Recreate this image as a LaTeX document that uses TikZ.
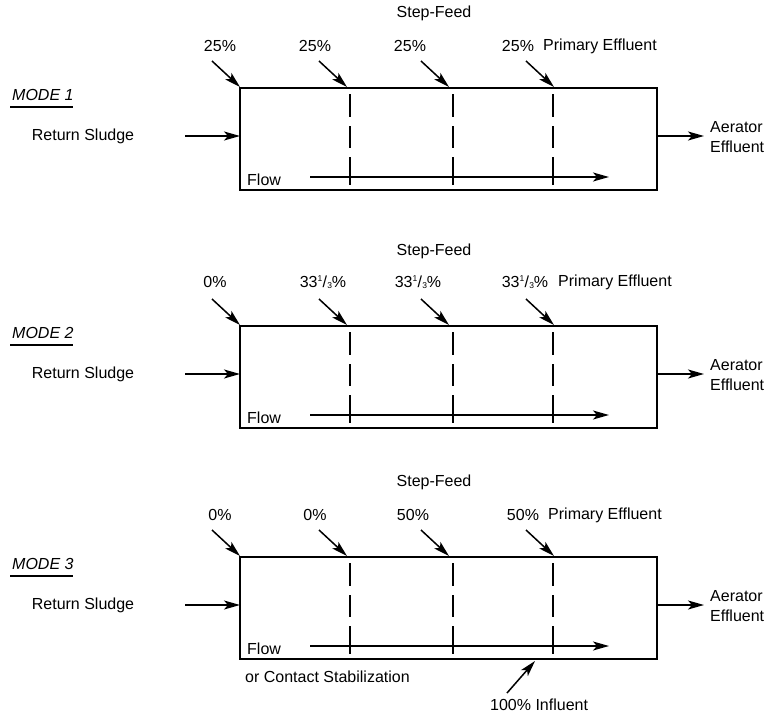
\documentclass[tikz,border=0pt]{standalone}
\usepackage{fontspec}
\setmainfont{Liberation Sans}
\usetikzlibrary{arrows.meta}
\newcommand{\thirdpct}{33\raisebox{0.62ex}{\fontsize{8.5}{9}\selectfont 1}\kern0.3pt/\kern0.2pt\raisebox{-0.15ex}{\fontsize{8.5}{9}\selectfont 3}\%}
\tikzset{
  lbl/.style={font=\fontsize{16}{18}\selectfont, inner sep=0pt},
  modelbl/.style={font=\fontsize{16}{18}\selectfont\itshape, inner sep=0pt, anchor=west},
  tank/.style={draw, line width=1.8pt, minimum width=417pt, minimum height=102pt, inner sep=0pt, outer sep=0pt, anchor=north west},
  arr/.style={line width=1.5pt, -{Stealth[length=16pt,width=9pt,inset=4pt]}},
  divider/.style={line width=1.6pt},
  uline/.style={line width=1.5pt}
}
\begin{document}
\begin{tikzpicture}[x=1pt,y=-1pt]
\useasboundingbox (0,0) rectangle (768,717);
% ---------- common parts for each mode ----------
\foreach \m/\t in {1/88,2/326,3/557}{
  \node[tank] (box\m) at (240,\t) {};
  \node[modelbl] (mode\m) at (12,\t+7) {MODE \m};
  \draw[uline] (10,\t+19) -- (73,\t+19);
  \node[lbl] (rs\m) at (83,\t+48) {Return Sludge};
  \coordinate (rsa\m) at (185,\t+48);
  \coordinate (rsb\m) at (240,\t+48);
  \draw[arr] (rsa\m) -- (rsb\m);
  \coordinate (aea\m) at (657,\t+48);
  \coordinate (aeb\m) at (704,\t+48);
  \draw[arr] (aea\m) -- (aeb\m);
  \node[lbl, anchor=west] (aer\m) at (710,\t+39.5) {Aerator};
  \node[lbl, anchor=west] (eff\m) at (710,\t+59) {Effluent};
  \node[lbl, anchor=west] (flow\m) at (247,\t+92) {Flow};
  \coordinate (fla\m) at (310,\t+89);
  \coordinate (flb\m) at (609,\t+89);
  \draw[arr] (fla\m) -- (flb\m);
  \foreach \x in {350,453,553}{
    \draw[divider] (\x,\t+6) -- (\x,\t+29);
    \draw[divider] (\x,\t+38) -- (\x,\t+60);
    \draw[divider] (\x,\t+69) -- (\x,\t+97);
  }
  \foreach \i/\sx in {1/212,2/319,3/421,4/526}{
    \coordinate (fs\m\i) at (\sx,\t-27);
    \coordinate (fe\m\i) at (\sx+28,\t-1);
    \draw[arr] (fs\m\i) -- (fe\m\i);
  }
  \node[lbl] (sf\m) at (434,\t-75) {Step-Feed};
}
% ---------- feed percentages ----------
\node[lbl] (p11) at (220,46) {25\%};
\node[lbl] (p12) at (315,46) {25\%};
\node[lbl] (p13) at (410,46) {25\%};
\node[lbl] (p14) at (518,46) {25\%};
\node[lbl, anchor=west] (pe1) at (543,46) {Primary Effluent};

\node[lbl] (p21) at (215,282) {0\%};
\node[lbl] (p22) at (323,282) {\thirdpct};
\node[lbl] (p23) at (418,282) {\thirdpct};
\node[lbl] (p24) at (525,282) {\thirdpct};
\node[lbl, anchor=west] (pe2) at (558,282) {Primary Effluent};

\node[lbl] (p31) at (220,515) {0\%};
\node[lbl] (p32) at (315,515) {0\%};
\node[lbl] (p33) at (413,515) {50\%};
\node[lbl] (p34) at (523,515) {50\%};
\node[lbl, anchor=west] (pe3) at (548,515) {Primary Effluent};
% ---------- mode 3 extras ----------
\node[lbl, anchor=west] (cs) at (245,677) {or Contact Stabilization};
\node[lbl, anchor=west] (inf) at (490,705) {100\% Influent};
\coordinate (ina) at (507,693);
\coordinate (inb) at (535,661);
\draw[arr] (ina) -- (inb);
\end{tikzpicture}
\end{document}
